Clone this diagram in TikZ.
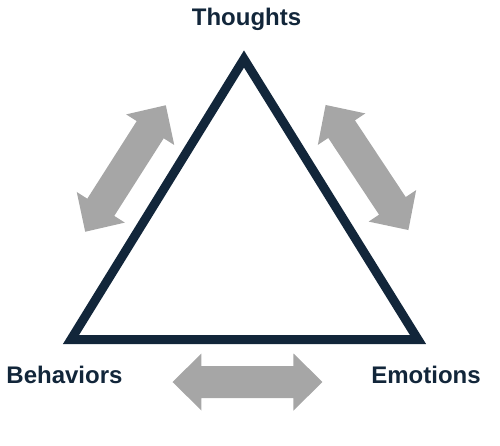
\documentclass[tikz,border=0pt]{standalone}
\usepackage{fontspec}
\setmainfont{Liberation Sans}
\definecolor{navy}{RGB}{18,38,58}
\definecolor{arrowgray}{RGB}{166,166,166}
\tikzset{every picture/.style={line width=0.5pt}}
\tikzset{
  corner/.style={anchor=base, inner sep=0pt, text=navy, font=\fontsize{12}{14}\selectfont\bfseries},
  pics/twoway/.style={code={
    \fill [arrowgray] (-75,0) -- (-46,-28.5) -- (-46,-16) -- (46,-16) -- (46,-28.5) -- (75,0) -- (46,28.5) -- (46,16) -- (-46,16) -- (-46,28.5) -- cycle ;
  }}
}

\begin{document}
\begin{tikzpicture}[x=0.5pt,y=0.5pt,yscale=-1,xscale=1]
\useasboundingbox (0,0) rectangle (500,446);

%Triangle corners
\coordinate (apex) at (244,59);
\coordinate (lowleft) at (71,339.5);
\coordinate (lowright) at (418,339.5);
%Triangle
\draw [navy, line width=4.5pt, line join=miter] (apex) -- (lowleft) -- (lowright) -- cycle ;

%Double Arrows
\pic [rotate=57.5] at (125.5,168.5) {twoway};
\pic [rotate=-56.5] at (367,167.5) {twoway};
\pic at (247.5,382) {twoway};

% Text Node
\node (thoughts) [corner] at (246.5,25) {Thoughts};
% Text Node
\node (behaviors) [corner] at (64.5,383.5) {Behaviors};
% Text Node
\node (emotions) [corner] at (426,383.5) {Emotions};
\end{tikzpicture}
\end{document}
